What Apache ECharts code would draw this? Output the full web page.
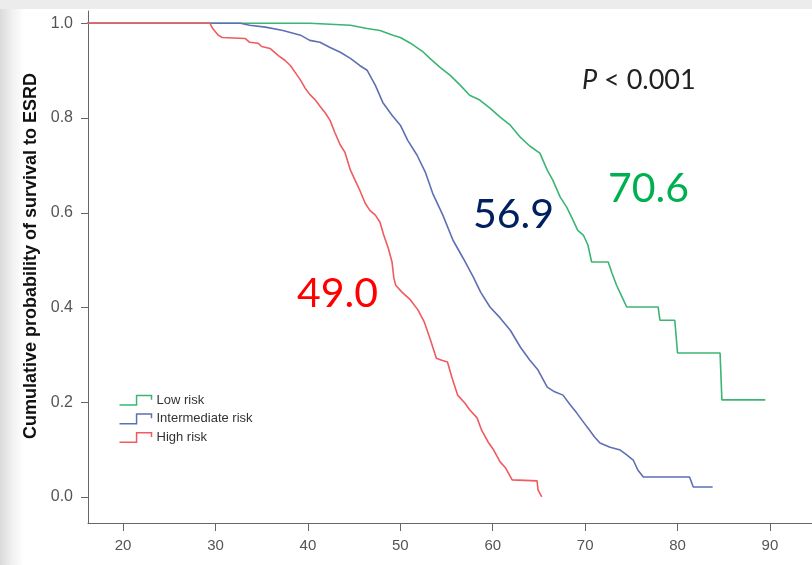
<!DOCTYPE html>
<html>
<head>
<meta charset="utf-8">
<script src="https://cdn.jsdelivr.net/npm/echarts@6/dist/echarts.min.js"></script>
<style>
  html, body { margin: 0; padding: 0; background: #fff; }
  #chart { width: 812px; height: 565px; }
</style>
</head>
<body>
<div id="chart"></div>
<script>
// Kaplan-Meier style curves: age (years) vs cumulative probability of survival to ESRD
const ageTicks = [20, 30, 40, 50, 60, 70, 80, 90]
const survivalTicks = [0, 0.2, 0.4, 0.6, 0.8, 1.0]
const groupNames = ['Low risk', 'Intermediate risk', 'High risk']
const groupColors = ['#3bb574', '#5f6fb5', '#ef5b5f']

const lowAge = [0, 40.2, 42.4, 44.6, 46.4, 47.8, 49.2, 50.0, 51.1, 52.5, 53.2, 54.3, 55.4, 56.5, 57.5, 58.6, 59.7, 60.8, 61.9, 63.0, 64.0, 65.1, 65.9, 66.5, 67.3, 68.0, 68.7, 69.2, 69.8, 70.3, 70.7, 72.5, 72.9, 73.4, 74.0, 74.5, 77.9, 78.1, 79.7, 80.0, 84.6, 84.8, 89.5]
const lowSurv = [1.0, 1.0, 0.998, 0.996, 0.989, 0.985, 0.975, 0.970, 0.958, 0.939, 0.926, 0.907, 0.890, 0.869, 0.848, 0.838, 0.821, 0.802, 0.785, 0.759, 0.741, 0.726, 0.690, 0.669, 0.633, 0.612, 0.584, 0.563, 0.553, 0.532, 0.496, 0.496, 0.473, 0.447, 0.422, 0.401, 0.401, 0.373, 0.373, 0.304, 0.304, 0.205, 0.205]

const midAge = [0, 32.7, 33.7, 35.4, 37.3, 39.2, 40.2, 41.3, 42.4, 43.5, 44.6, 45.6, 46.4, 47.3, 48.1, 49.1, 50.0, 50.8, 51.8, 52.7, 53.5, 54.6, 55.7, 56.8, 57.9, 58.7, 59.7, 60.8, 61.9, 63.0, 64.0, 64.9, 65.9, 66.7, 67.6, 68.4, 69.1, 70.2, 71.0, 71.6, 72.7, 73.8, 74.5, 75.2, 75.7, 76.3, 81.3, 81.7, 83.8]
const midSurv = [1.0, 1.0, 0.996, 0.992, 0.985, 0.975, 0.964, 0.960, 0.949, 0.939, 0.926, 0.911, 0.901, 0.869, 0.833, 0.806, 0.785, 0.753, 0.722, 0.686, 0.641, 0.595, 0.542, 0.504, 0.464, 0.432, 0.401, 0.378, 0.352, 0.316, 0.289, 0.268, 0.232, 0.222, 0.215, 0.194, 0.177, 0.148, 0.127, 0.114, 0.105, 0.099, 0.089, 0.078, 0.057, 0.042, 0.042, 0.021, 0.021]

const highAge = [0, 29.4, 29.7, 30.3, 30.7, 33.2, 33.7, 34.6, 35.0, 35.9, 36.8, 37.5, 38.1, 38.6, 39.2, 39.7, 40.2, 40.8, 41.3, 41.9, 42.4, 42.9, 43.5, 44.0, 44.6, 45.1, 45.6, 46.2, 46.7, 47.3, 47.8, 48.2, 48.7, 49.1, 49.3, 49.5, 50.2, 51.1, 51.9, 52.6, 53.2, 53.9, 54.4, 55.1, 55.6, 56.2, 57.0, 57.5, 58.3, 58.8, 59.5, 60.1, 60.8, 61.4, 62.1, 64.8, 64.9, 65.3]
const highSurv = [1.0, 1.0, 0.989, 0.975, 0.970, 0.968, 0.960, 0.958, 0.951, 0.947, 0.932, 0.922, 0.911, 0.897, 0.880, 0.863, 0.850, 0.838, 0.825, 0.810, 0.795, 0.770, 0.743, 0.728, 0.690, 0.669, 0.648, 0.620, 0.605, 0.595, 0.580, 0.553, 0.525, 0.496, 0.462, 0.447, 0.432, 0.416, 0.395, 0.369, 0.335, 0.293, 0.289, 0.285, 0.251, 0.215, 0.198, 0.184, 0.167, 0.141, 0.116, 0.099, 0.074, 0.061, 0.036, 0.034, 0.015, 0.0]

// median survival labels
const medianLabels = ['70.6', '56.9', '49.0']
const medianColors = ['#00b050', '#002060', '#ff0000']

const zip = (xs, ys) => xs.map((x, i) => [x, ys[i]])
const curves = [zip(lowAge, lowSurv), zip(midAge, midSurv), zip(highAge, highSurv)]

const chart = echarts.init(document.getElementById('chart'))

const axisFont = "'Liberation Sans', Arial, sans-serif"
const bigFont = "Lato, 'Open Sans', sans-serif"

const option = {
  backgroundColor: '#fff',
  animation: false,
  grid: { left: 88, right: 0, top: 11, bottom: 42 },
  xAxis: {
    type: 'value',
    min: 16.2,
    max: 94.55,
    splitLine: { show: false },
    axisLine: { onZero: false, lineStyle: { color: '#666', width: 1 } },
    axisTick: { show: true, length: 8, lineStyle: { color: '#666' }, customValues: ageTicks },
    axisLabel: { customValues: ageTicks, color: '#555', fontSize: 15, fontFamily: axisFont, margin: 15 }
  },
  yAxis: {
    type: 'value',
    min: -0.055,
    max: 1.026,
    name: 'Cumulative probability of survival to ESRD',
    nameLocation: 'middle',
    nameGap: 44,
    nameTextStyle: { color: '#111', fontSize: 18, fontWeight: 'bold', fontFamily: axisFont, padding: [0, 0, 0, 22] },
    splitLine: { show: false },
    axisLine: { show: true, onZero: false, lineStyle: { color: '#666', width: 1 } },
    axisTick: { show: true, length: 7, lineStyle: { color: '#666' }, customValues: survivalTicks },
    axisLabel: {
      customValues: survivalTicks,
      color: '#555',
      fontSize: 16,
      fontFamily: axisFont,
      margin: 15,
      formatter: v => v.toFixed(1)
    }
  },
  legend: {
    orient: 'vertical',
    left: 112,
    top: 388,
    itemWidth: 32,
    itemHeight: 10,
    itemGap: 4,
    icon: 'path://M0,10 L16,10 L16,1 L30,1 L30,5',
    textStyle: { color: '#333', fontSize: 13, fontFamily: axisFont },
    data: groupNames.map((n, i) => ({
      name: n,
      itemStyle: { color: 'none', borderColor: groupColors[i], borderWidth: 1.5 }
    }))
  },
  series: groupNames.map((n, i) => ({
    name: n,
    type: 'line',
    showSymbol: false,
    symbol: 'none',
    lineStyle: { color: groupColors[i], width: 1.6 },
    itemStyle: { color: groupColors[i] },
    data: curves[i]
  })),
  graphic: [
    { type: 'rect', z: -10, shape: { x: 0, y: 0, width: 812, height: 9 }, style: { fill: '#ececec' } },
    {
      type: 'rect', z: -10,
      shape: { x: 0, y: 9, width: 24, height: 556 },
      style: {
        fill: new echarts.graphic.LinearGradient(0, 0, 1, 0, [
          { offset: 0, color: '#dadada' },
          { offset: 0.5, color: '#f0f0f0' },
          { offset: 1, color: '#ffffff' }
        ])
      }
    },
    {
      type: 'text', left: 582, top: 67,
      style: {
        text: '{i|P} < 0.001',
        rich: { i: { fontStyle: 'italic', fontSize: 27, fontFamily: bigFont, fill: '#222' } },
        fontSize: 27, fontFamily: bigFont, fill: '#222'
      }
    },
    { type: 'text', left: 608, top: 168, style: { text: medianLabels[0], fontSize: 41, fontFamily: bigFont, fill: medianColors[0] } },
    { type: 'text', left: 473, top: 194, style: { text: medianLabels[1], fontSize: 41, fontFamily: bigFont, fill: medianColors[1] } },
    { type: 'text', left: 297, top: 273, style: { text: medianLabels[2], fontSize: 41, fontFamily: bigFont, fill: medianColors[2] } }
  ]
}

chart.setOption(option)
</script>
</body>
</html>
